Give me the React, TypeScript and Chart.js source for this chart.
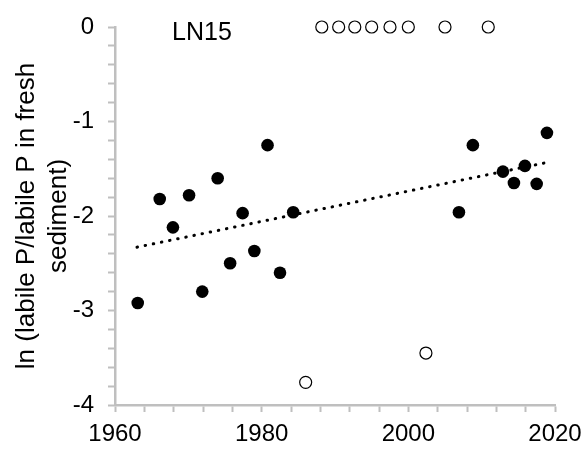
import React, { useEffect, useRef } from 'react';
import { Chart, registerables } from 'chart.js';

Chart.register(...registerables);

// ---- data ----
const filledYears = [1963.1, 1966.1, 1967.9, 1970.1, 1971.9, 1974.0, 1975.7, 1977.4, 1979.0, 1980.8, 1982.5, 1984.3, 2006.9, 2008.8, 2012.9, 2014.4, 2015.9, 2017.5, 2018.9];
const filledValues = [-2.92, -1.82, -2.12, -1.78, -2.8, -1.6, -2.5, -1.97, -2.37, -1.25, -2.6, -1.96, -1.96, -1.25, -1.53, -1.65, -1.47, -1.66, -1.12];
const openYears = [1986.0, 1988.2, 1990.5, 1992.7, 1995.0, 1997.5, 2000.0, 2002.4, 2005.0, 2010.9];
const openValues = [-3.76, 0, 0, 0, 0, 0, 0, -3.45, 0, 0];
const trendYears = [1963, 2018.5];
const trendValues = [-2.33, -1.44];
const xTickLabels = [1960, 1980, 2000, 2020];
const yTickLabels = [0, -1, -2, -3, -4];
const panelLabel = 'LN15';
const yTitle = ['ln (labile P/labile P in fresh', 'sediment)'];

const FONT = '"Liberation Sans", Arial, sans-serif';
const GRAY = '#BFBFBF';

const zip = (xs: number[], ys: number[]) => xs.map((x, i) => ({ x, y: ys[i] }));
const isLabel = (v: number, labels: number[]) => {
  const r = Math.round(v);
  return Math.abs(v - r) < 1e-6 && labels.includes(r);
};

const panelLabelPlugin = {
  id: 'panelLabel',
  afterDraw(chart: any) {
    const { ctx, chartArea } = chart;
    ctx.save();
    ctx.font = `25px ${FONT}`;
    ctx.fillStyle = '#000';
    ctx.textAlign = 'center';
    ctx.textBaseline = 'middle';
    ctx.fillText(panelLabel, chartArea.left + 87, chartArea.top + 6);
    ctx.restore();
  },
};

export default function App() {
  const ref = useRef<HTMLCanvasElement | null>(null);

  useEffect(() => {
    if (!ref.current) return;
    const chart = new Chart(ref.current, {
      type: 'scatter',
      data: {
        datasets: [
          {
            data: zip(filledYears, filledValues),
            pointRadius: 6.3,
            pointBackgroundColor: '#000',
            pointBorderColor: '#000',
            pointBorderWidth: 0,
            clip: false,
          } as any,
          {
            data: zip(openYears, openValues),
            pointRadius: 6,
            pointBackgroundColor: '#fff',
            pointBorderColor: '#000',
            pointBorderWidth: 1.2,
            clip: false,
          } as any,
          {
            type: 'line',
            data: zip(trendYears, trendValues),
            showLine: true,
            pointRadius: 0,
            borderColor: '#000',
            borderWidth: 3,
            borderDash: [0.5, 7.8],
            borderCapStyle: 'round',
            fill: false,
          } as any,
        ],
      },
      options: {
        animation: false,
        responsive: false,
        devicePixelRatio: 1,
        layout: { padding: { top: 27, right: 30, left: 0, bottom: 0 } },
        plugins: { legend: { display: false }, tooltip: { enabled: false }, title: { display: false } },
        scales: {
          x: {
            type: 'linear',
            min: 1960,
            max: 2020,
            afterFit(scale: any) {
              scale.height = 53;
              scale.paddingLeft = 0;
              scale.paddingRight = 0;
            },
            grid: { display: true, drawOnChartArea: false, drawTicks: true, tickLength: 7, tickColor: GRAY, tickWidth: 2 },
            border: { display: true, color: GRAY, width: 2.5 },
            ticks: {
              stepSize: 4,
              autoSkip: false,
              maxRotation: 0,
              padding: 8,
              color: '#000',
              font: { family: FONT, size: 24 },
              callback: (v: any) => (isLabel(Number(v), xTickLabels) ? String(Math.round(Number(v))) : ''),
            },
          },
          y: {
            type: 'linear',
            min: -4,
            max: 0,
            afterFit(scale: any) {
              scale.width = 115;
              scale.paddingTop = 0;
              scale.paddingBottom = 0;
            },
            grid: { display: true, drawOnChartArea: false, drawTicks: true, tickLength: 7, tickColor: GRAY, tickWidth: 2 },
            border: { display: true, color: GRAY, width: 2.5 },
            title: {
              display: true,
              text: yTitle,
              color: '#000',
              font: { family: FONT, size: 26, lineHeight: 1.23 },
              padding: { top: 11, bottom: 0 },
            },
            ticks: {
              stepSize: 0.2,
              autoSkip: false,
              padding: 14,
              color: '#000',
              font: { family: FONT, size: 24 },
              callback: (v: any) => {
                const n = Number(v);
                if (!isLabel(n, yTickLabels)) return '';
                const r = Math.round(n);
                return r === 0 ? '0' : String(r);
              },
            },
          },
        },
      },
      plugins: [panelLabelPlugin],
    });
    return () => chart.destroy();
  }, []);

  return (
    <div style={{ position: 'absolute', left: 0, top: 0, width: 585, height: 458, background: '#fff' }}>
      <canvas ref={ref} width={585} height={458} />
    </div>
  );
}
